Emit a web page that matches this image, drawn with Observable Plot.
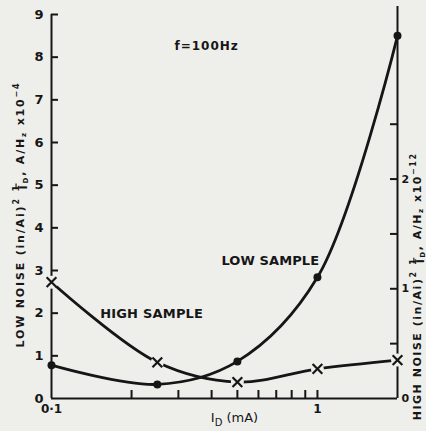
<!DOCTYPE html>
<html><head><meta charset="utf-8">
<script src="https://cdn.jsdelivr.net/npm/d3@7"></script>
<script src="https://cdn.jsdelivr.net/npm/@observablehq/plot@0.6"></script>
<style>html,body{margin:0;padding:0;background:#eeeeeb}</style>
</head><body><div id="chart"></div>
<script>
// ---- data ----
const currents   = [0.1, 0.25, 0.5, 1, 2];          // I_D (mA)
const lowSample  = [0.78, 0.33, 0.87, 2.84, 8.5];   // left axis, x10^-4
const highSample = [1.06, 0.33, 0.15, 0.27, 0.35];  // right axis, x10^-12
const leftTicks  = [0, 1, 2, 3, 4, 5, 6, 7, 8, 9];
const rightLabels = [0, 1, 2];
const rightMinor = [0.5, 1, 1.5, 2, 2.5];
const xMinor = [0.2, 0.3, 0.4, 0.5, 0.6, 0.7, 0.8, 0.9, 1];
const xTickValues = [0.1, 1];
const xTickLabels = ["0·1", "1"];
const leftMax = 9, rightMax = 3.5;
const annotations = [
  {x: 0.383, y: 8.25, text: "f=100Hz", size: 12, ls: 1},
  {x: 0.665, y: 3.23, text: "LOW SAMPLE", size: 13, ls: 0.1},
  {x: 0.238, y: 1.99, text: "HIGH SAMPLE", size: 13, ls: 0.2}
];

const k = leftMax / rightMax;
const low = currents.map((c, i) => ({c, v: lowSample[i]}));
const high = currents.map((c, i) => ({c, v: highSample[i]}));
const ink = "#161616", bg = "#eeeeeb";

const W = 426, H = 431, mL = 51, mR = 29, mT = 14, mB = 33;
const pw = W - mL - mR, ph = H - mT - mB;

function titleSegs(name, exp) {
  return [
    {t: name + " NOISE (in/Ai)"},
    {t: "2", size: 8, off: -5},
    {t: " ", off: 0},
    {t: "1", size: 9, off: -5},
    {t: "I", off: 3, dx: -6, over: true},
    {t: "D", size: 7, off: 4},
    {t: ", A/H", off: 0},
    {t: "z", size: 7, off: 2},
    {t: " x10", off: 0},
    {t: exp, size: 8, off: -5}
  ];
}
const leftSegs = titleSegs("LOW", "−4");
const rightSegs = titleSegs("HIGH", "−12");
const xSegs = [{t: "I"}, {t: "D", size: 10, off: 4}, {t: " (mA)", off: 0}];
const plain = s => s.map(d => d.t).join("");

const chart = Plot.plot({
  width: W, height: H,
  marginLeft: mL, marginRight: mR, marginTop: mT, marginBottom: mB,
  style: {background: bg, color: ink, fontFamily: "DejaVu Sans", fontWeight: "bold", fontSize: "13px"},
  x: {type: "log", domain: [0.1, 2]},
  y: {domain: [0, leftMax]},
  marks: [
    Plot.ruleY([0], {stroke: ink, strokeWidth: 2}),
    Plot.ruleX([0.1], {stroke: ink, strokeWidth: 2}),
    Plot.ruleX([2], {stroke: ink, strokeWidth: 2, insetTop: -8}),
    Plot.tickY(leftTicks.filter(v => v > 0), {y: d => d, stroke: ink, strokeWidth: 2, insetRight: pw - 7}),
    Plot.tickY(rightMinor, {y: d => d * k, stroke: ink, strokeWidth: 2, insetLeft: pw - 7}),
    Plot.tickX(xMinor, {x: d => d, stroke: ink, strokeWidth: 2, insetTop: ph - 8}),
    Plot.axisY(leftTicks, {anchor: "left", tickSize: 0, tickPadding: 8, label: null, fontSize: 13}),
    Plot.axisY(rightLabels.map(v => v * k), {anchor: "right", tickSize: 0, tickPadding: 4, label: null, fontSize: 11,
      tickFormat: d => String(Math.round(d / k))}),
    Plot.axisX(xTickValues, {tickSize: 0, tickPadding: 6, label: null, fontSize: 12,
      tickFormat: d => xTickLabels[xTickValues.indexOf(d)]}),
    Plot.line(low, {x: "c", y: "v", curve: "catmull-rom", stroke: ink, strokeWidth: 2.8}),
    Plot.line(high, {x: "c", y: d => d.v * k, curve: "catmull-rom", stroke: ink, strokeWidth: 2.8}),
    Plot.dot(low, {x: "c", y: "v", r: 4, fill: ink}),
    Plot.dot(high, {x: "c", y: d => d.v * k, r: 6.5, fill: bg}),
    Plot.dot(high, {x: "c", y: d => d.v * k, r: 4.5, symbol: "times", stroke: ink, strokeWidth: 2.2}),
    Plot.text(annotations, {x: "x", y: "y", text: "text", fontSize: d => d.size, fill: ink}),
    Plot.text([plain(xSegs)], {text: d => d, frameAnchor: "bottom", dx: 10, dy: 23, fontSize: 13, fontWeight: "normal", fill: ink}),
    Plot.text([plain(leftSegs)], {text: d => d, frameAnchor: "bottom-left", rotate: -90, textAnchor: "start", dx: -28, dy: -51, fontSize: 11, fill: ink}),
    Plot.text([plain(rightSegs)], {text: d => d, frameAnchor: "top-right", rotate: -90, textAnchor: "end", dx: 16, dy: 138, fontSize: 11, fill: ink})
  ]
});
document.getElementById("chart").appendChild(chart);

function richify(svg, segs, target) {
  const p = plain(segs);
  d3.select(svg).selectAll("text").filter(function() { return this.textContent === p; }).each(function() {
    const t = d3.select(this);
    t.text(null);
    let prev = 0;
    for (const s of segs) {
      const sp = t.append("tspan").text(s.t);
      const off = s.off === undefined ? prev : s.off;
      if (off !== prev) sp.attr("dy", off - prev);
      prev = off;
      if (s.size) sp.attr("font-size", s.size);
      if (s.dx) sp.attr("dx", s.dx);
      if (s.over) sp.attr("text-decoration", "overline");
    }
    if (target) {
      const n = p.length;
      const natural = this.getComputedTextLength();
      t.attr("letter-spacing", Math.max(0, (target - natural) / n).toFixed(2));
    }
  });
}
richify(chart, leftSegs, 272);
richify(chart, rightSegs, 274);
richify(chart, xSegs, 0);
d3.select(chart).selectAll("text").each(function() {
  const a = annotations.find(d => d.text === this.textContent);
  if (a) d3.select(this).attr("letter-spacing", a.ls);
});
</script>
</body></html>
